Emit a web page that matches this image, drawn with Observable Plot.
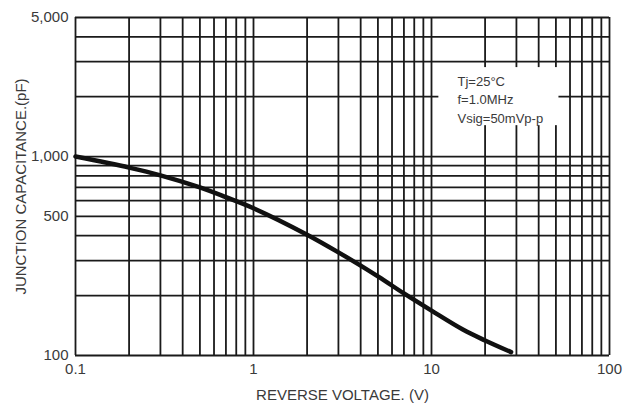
<!DOCTYPE html>
<html><head><meta charset="utf-8">
<script src="https://cdn.jsdelivr.net/npm/d3@7"></script>
<script src="https://cdn.jsdelivr.net/npm/@observablehq/plot@0.6"></script>
<style>
html,body{margin:0;padding:0;background:#fff;}
#chart{width:624px;height:409px;}
</style></head><body><div id="chart"></div>
<script>
// Reverse voltage (V) and junction capacitance (pF)
const voltage = [0.1, 0.2, 0.3, 0.5, 0.7, 1, 2, 3, 5, 7, 10, 15, 20, 28];
const capacitance = [1000, 880, 805, 700, 625, 550, 405, 330, 250, 205, 168, 135, 119, 104];

// Axis tick labels
const xTickValues = [0.1, 1, 10, 100];
const yTickValues = [100, 500, 1000, 5000];

// Log grid lines
const xGridValues = [0.1,0.2,0.3,0.4,0.5,0.6,0.7,0.8,0.9,1,2,3,4,5,6,7,8,9,10,20,30,40,50,60,70,80,90,100];
const yGridValues = [100,200,300,400,500,600,700,800,900,1000,2000,3000,4000,5000];

// Test conditions note
const conditions = ["Tj=25°C", "f=1.0MHz", "Vsig=50mVp-p"];

const data = voltage.map((v, i) => ({v, c: capacitance[i]}));
const gridStyle = {stroke: "#1a1a1a", strokeOpacity: 1, strokeWidth: 1.8};

const chart = Plot.plot({
  width: 624, height: 409,
  marginLeft: 75, marginRight: 15, marginTop: 17, marginBottom: 54,
  style: {fontFamily: "'Liberation Sans', Arial, sans-serif", background: "#fff", color: "#3a3a3a"},
  x: {type: "log", domain: [0.1, 100]},
  y: {type: "log", domain: [100, 5000]},
  marks: [
    Plot.gridX(xGridValues, gridStyle),
    Plot.gridY(yGridValues, gridStyle),
    Plot.rect([0], {x1: 11, x2: 52, y1: 1430, y2: 2800, fill: "white"}),
    Plot.text([conditions.join("\n")], {x: 14, y: 2620, textAnchor: "start", lineAnchor: "top", fontSize: 13, lineHeight: 1.4, fill: "#3a3a3a"}),
    Plot.line(data, {x: "v", y: "c", stroke: "#111", strokeWidth: 4.5, curve: "catmull-rom"}),
    Plot.axisX(xTickValues, {tickSize: 0, tickPadding: 8, tickFormat: d => String(d), fontSize: 15,
      label: "REVERSE VOLTAGE. (V)", labelAnchor: "center", labelArrow: "none", labelOffset: 44}),
    Plot.axisY(yTickValues, {tickSize: 0, tickPadding: 7, tickFormat: d3.format(","), fontSize: 15,
      label: "JUNCTION CAPACITANCE.(pF)", labelAnchor: "center", labelArrow: "none", labelOffset: 60})
  ]
});
document.getElementById("chart").append(chart);
</script></body></html>
